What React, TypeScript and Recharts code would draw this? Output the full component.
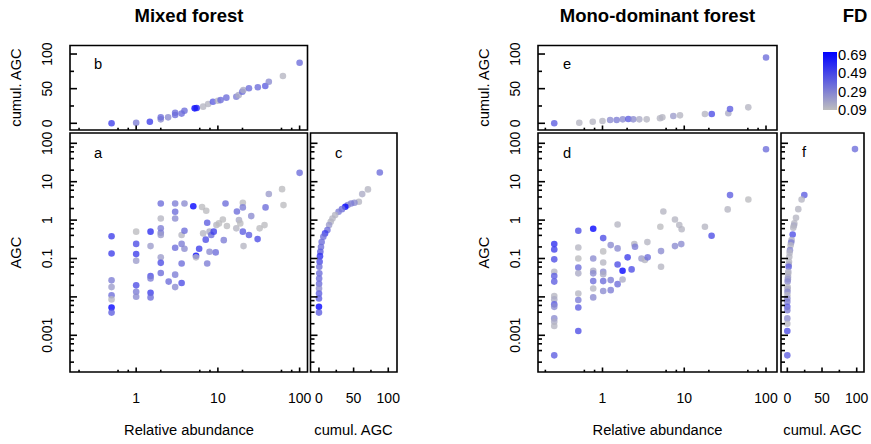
import React from "react";
import { ScatterChart, Scatter, XAxis, YAxis, ReferenceArea } from "recharts";

const W = 871;
const H = 444;
const FONT = "'Liberation Sans', Arial, sans-serif";

// panel a: mixed forest, AGC vs relative abundance
const mixAbund = [0.5, 0.5, 0.5, 0.5, 0.5, 0.5, 0.5, 0.5, 1, 1, 1, 1, 1, 1, 1, 1.5, 1.5, 1.5, 1.5, 1.5, 1.5, 2, 2, 2, 2, 2, 2, 2, 2, 2.5, 3, 3, 3, 3, 3, 3, 3.6, 3.6, 3.6, 3.6, 3.9, 3.9, 3.9,
  5, 5.4, 5.4, 5.9, 6.4, 7.2, 6.6, 7.1, 7.4, 7.4, 7.9, 7.9, 8.3, 8.9, 9.4, 9.6, 10.3, 11.5, 11.8, 12.4, 12.9, 16.8, 17.1, 18.1, 18.8, 20.2, 20.2, 20.2, 20.6, 24, 25.6, 30.6, 32.4, 37.2, 38.3, 42, 61, 63.5, 100];
const mixAgc = [0.38, 0.135, 0.027, 0.018, 0.011, 0.0086, 0.0053, 0.0039, 0.5, 0.24, 0.13, 0.087, 0.02, 0.0136, 0.0101, 0.5, 0.21, 0.035, 0.03, 0.0128, 0.0097, 2.7, 1.1, 0.61, 0.47, 0.41, 0.107, 0.077, 0.042, 0.025, 2.7, 1.65, 1.1, 0.19, 0.038, 0.018, 0.41, 0.24, 0.074, 0.023, 2.7, 0.53, 0.18,
  2.3, 0.118, 0.107, 0.18, 2.2, 1.75, 0.45, 0.31, 0.85, 0.074, 0.5, 0.15, 0.41, 0.5, 0.144, 0.74, 0.82, 1.04, 0.3, 2.7, 0.7, 0.61, 1.68, 1.0, 0.82, 2.83, 2.14, 0.5, 0.21, 0.41, 1.27, 0.32, 0.61, 0.74, 2.14, 4.8, 6.4, 2.46, 17];
const mixFd = [0.5, 0.5, 0.3, 0.2, 0.35, 0.12, 0.69, 0.4, 0.1, 0.45, 0.5, 0.2, 0.45, 0.3, 0.25, 0.55, 0.2, 0.45, 0.3, 0.5, 0.35, 0.35, 0.12, 0.3, 0.3, 0.2, 0.2, 0.45, 0.35, 0.35, 0.3, 0.35, 0.25, 0.35, 0.3, 0.25, 0.12, 0.3, 0.35, 0.45, 0.25, 0.35, 0.25,
  0.69, 0.69, 0.12, 0.5, 0.1, 0.1, 0.12, 0.45, 0.4, 0.3, 0.15, 0.25, 0.35, 0.5, 0.35, 0.12, 0.1, 0.1, 0.3, 0.35, 0.1, 0.12, 0.35, 0.15, 0.1, 0.1, 0.3, 0.4, 0.12, 0.4, 0.25, 0.45, 0.1, 0.1, 0.35, 0.2, 0.1, 0.1, 0.35];

// panel b: mixed forest, cumulative AGC vs relative abundance
const mixCumAbund = [0.5, 1, 1.47, 2, 2, 2.46, 3, 3, 3.6, 3.9, 5.2, 5.5, 6.6, 7.6, 8.7, 10, 10.8, 12.7, 16.8, 18, 19.9, 20.5, 24, 30.8, 38, 42, 62.5, 100];
const mixCum = [0, 0.9, 2.3, 5.7, 8.6, 8.6, 12, 15.3, 14, 18.2, 21.6, 22, 24, 27.8, 31, 32.6, 33.5, 37, 38.4, 40.7, 45.6, 48, 50.5, 52, 53.8, 60, 68.3, 87.5];
const mixCumFd = [0.5, 0.3, 0.5, 0.25, 0.35, 0.25, 0.35, 0.35, 0.35, 0.35, 0.69, 0.6, 0.12, 0.12, 0.4, 0.12, 0.35, 0.35, 0.3, 0.15, 0.35, 0.15, 0.35, 0.35, 0.4, 0.25, 0.12, 0.35];

// panel c: mixed forest, AGC vs cumulative AGC
const mixCurveCum = [87.8, 70.7, 62.4, 57.6, 51.2, 46.3, 41.5, 38, 33.2, 28.3, 23.4, 19.5, 17, 14.6, 12.2, 8.8, 6.3, 3.9, 2.9, 2, 1.5, 1, 0.5, 0.5, 0.3, 0.2, 0.1, 0.1, 0.05, 0, 0];
const mixCurveAgc = [17.4, 6.3, 4.76, 3.0, 2.83, 2.7, 2.46, 2.22, 1.93, 1.65, 1.35, 1.1, 0.9, 0.74, 0.55, 0.45, 0.37, 0.27, 0.2, 0.15, 0.115, 0.082, 0.061, 0.041, 0.03, 0.022, 0.0166, 0.0123, 0.0091, 0.0055, 0.0039];
const mixCurveFd = [0.35, 0.12, 0.15, 0.12, 0.25, 0.3, 0.25, 0.69, 0.35, 0.3, 0.12, 0.12, 0.12, 0.2, 0.35, 0.5, 0.35, 0.35, 0.35, 0.4, 0.55, 0.45, 0.35, 0.35, 0.35, 0.35, 0.25, 0.4, 0.4, 0.69, 0.4];

// panel d: mono-dominant forest, AGC vs relative abundance
const monoAbund = [0.257, 0.257, 0.257, 0.257, 0.257, 0.257, 0.257, 0.257, 0.257, 0.257, 0.257, 0.257, 0.257, 0.257,
  0.506, 0.506, 0.506, 0.506, 0.506, 0.506, 0.506, 0.506, 0.506, 0.77, 0.77, 0.77, 0.77, 0.77, 0.77, 0.77,
  1.02, 1.02, 1.02, 1.02, 1.02, 1.02, 1.02, 1.26, 1.26, 1.26, 1.53, 1.53, 1.53, 1.53, 1.76, 1.76, 2.03, 2.27, 2.45, 2.5, 3.0, 3.3, 3.54, 3.57,
  5.1, 5.2, 5.2, 5.55, 7.7, 7.7, 8.7, 9.3, 9.2, 17.9, 21.6, 34, 36.3, 60.8, 100];
const monoAgc = [0.237, 0.172, 0.095, 0.045, 0.035, 0.025, 0.0105, 0.0086, 0.0064, 0.0055, 0.00275, 0.00225, 0.00174, 0.0003,
  0.527, 0.194, 0.1, 0.0585, 0.041, 0.0123, 0.0083, 0.0053, 0.00129, 0.594, 0.1, 0.048, 0.041, 0.0258, 0.0166, 0.0097,
  0.34, 0.153, 0.079, 0.045, 0.039, 0.0258, 0.0142, 0.223, 0.0274, 0.015, 0.77, 0.183, 0.07, 0.0215, 0.048, 0.0285, 0.107, 0.052, 0.237, 0.202, 0.1, 0.091, 0.267, 0.107,
  0.67, 0.156, 0.061, 1.68, 1.04, 0.21, 0.74, 0.58, 0.237, 0.67, 0.39, 1.9, 4.48, 3.45, 70];
const monoFd = [0.55, 0.5, 0.45, 0.12, 0.4, 0.4, 0.12, 0.15, 0.4, 0.25, 0.25, 0.15, 0.12, 0.4,
  0.45, 0.12, 0.1, 0.35, 0.15, 0.12, 0.3, 0.4, 0.45, 0.69, 0.25, 0.15, 0.25, 0.35, 0.12, 0.25,
  0.45, 0.1, 0.12, 0.25, 0.15, 0.35, 0.25, 0.25, 0.3, 0.3, 0.12, 0.25, 0.45, 0.35, 0.69, 0.15, 0.5, 0.45, 0.12, 0.3, 0.2, 0.12, 0.12, 0.35,
  0.1, 0.25, 0.12, 0.12, 0.12, 0.25, 0.12, 0.12, 0.25, 0.12, 0.45, 0.12, 0.4, 0.1, 0.35];

// panel e: mono-dominant forest, cumulative AGC vs relative abundance
const monoCumAbund = [0.257, 0.52, 0.76, 1.0, 1.24, 1.49, 1.77, 2.07, 2.38, 2.82, 3.47, 5.05, 5.4, 7.35, 8.87, 17.9, 21.7, 34.6, 36.3, 60.7, 100];
const monoCum = [0, 0.9, 2.3, 3.3, 4.8, 4.8, 5.7, 6.2, 5.7, 5.7, 5.7, 7.2, 8.6, 10.5, 11.5, 13.4, 13.4, 14.4, 20.6, 23, 95];
const monoCumFd = [0.4, 0.12, 0.12, 0.12, 0.25, 0.3, 0.25, 0.4, 0.25, 0.15, 0.12, 0.12, 0.12, 0.2, 0.12, 0.12, 0.45, 0.15, 0.4, 0.12, 0.35];

// panel f: mono-dominant forest, AGC vs cumulative AGC
const monoCurveCum = [97.5, 24.5, 20.6, 15.8, 12.5, 10.1, 9.5, 8.6, 7.7, 6.2, 5.5, 4.8, 3.8, 3.3, 2.9, 2.4, 2.0, 1.9, 1.4, 1.2, 1.0, 0.8, 0.5, 0.5, 0.3, 0.2, 0.1, 0.1, 0, 0, 0, 0, 0, 0, 0];
const monoCurveAgc = [70.6, 4.48, 3.45, 1.93, 1.15, 0.82, 0.72, 0.63, 0.42, 0.3, 0.26, 0.22, 0.165, 0.14, 0.111, 0.082, 0.07, 0.061, 0.045, 0.04, 0.033, 0.029, 0.025, 0.018, 0.016, 0.0136, 0.011, 0.0091, 0.0075, 0.0055, 0.0045, 0.00275, 0.002, 0.00129, 0.0003];
const monoCurveFd = [0.35, 0.4, 0.12, 0.12, 0.12, 0.12, 0.15, 0.12, 0.45, 0.15, 0.3, 0.12, 0.25, 0.12, 0.12, 0.12, 0.15, 0.4, 0.15, 0.12, 0.15, 0.2, 0.25, 0.12, 0.15, 0.25, 0.12, 0.25, 0.3, 0.4, 0.3, 0.25, 0.12, 0.45, 0.4];

// axis ticks and labels
const logXTicks = [0.2, 0.6, 0.8, 1, 2, 6, 8, 10, 20, 60, 80, 100];
const logXLabels = [1, 10, 100];
const logYTicks = [0.0002, 0.0004, 0.0006, 0.0008, 0.001, 0.002, 0.004, 0.006, 0.008, 0.01, 0.02, 0.04, 0.06, 0.08,
  0.1, 0.2, 0.4, 0.6, 0.8, 1, 2, 4, 6, 8, 10, 20, 40, 60, 80, 100];
const logYLabels = [0.001, 0.1, 1, 10, 100];
const cumTicks = [0, 25, 50, 75, 100];
const cumLabels = [0, 50, 100];
const fdLegend = [0.69, 0.49, 0.29, 0.09];

const zip = (xs: number[], ys: number[], fds: number[]) =>
  xs.slice(0, Math.min(xs.length, ys.length, fds.length)).map((x, i) => ({ x, y: ys[i], fd: fds[i] }));

function fdColor(fd: number) {
  const t = Math.max(0, Math.min(1, (fd - 0.09) / 0.6));
  const g = Math.round(190 * (1 - t));
  const b = Math.round(190 + 65 * t);
  return `rgb(${g},${g},${b})`;
}

const isDecade = (v: number) => Math.abs(Math.log10(v) - Math.round(Math.log10(v))) < 1e-6;
const isFifty = (v: number) => v % 50 === 0;

const makeTick = (side: "left" | "bottom", major: (v: number) => boolean, labels: number[], majLen: number, minLen: number) =>
  (p: any) => {
    const { x, y, payload } = p;
    const v = payload.value;
    const len = major(v) ? majLen : minLen;
    const show = labels.some((l) => Math.abs(l - v) < 1e-9);
    if (side === "left") {
      const tx = x - 18;
      return (
        <g>
          <line x1={x} y1={y} x2={x + len} y2={y} stroke="#000" strokeWidth={1.6} />
          {show && (
            <text x={tx} y={y} transform={`rotate(-90 ${tx} ${y})`} textAnchor="middle" fontSize={14} fontFamily={FONT} fill="#000">
              {String(v)}
            </text>
          )}
        </g>
      );
    }
    return (
      <g>
        <line x1={x} y1={y} x2={x} y2={y - len} stroke="#000" strokeWidth={1.6} />
        {show && (
          <text x={x} y={y + 31} textAnchor="middle" fontSize={14} fontFamily={FONT} fill="#000">
            {String(v)}
          </text>
        )}
      </g>
    );
  };

const Dot = (p: any) => (
  <circle cx={p.cx} cy={p.cy} r={3.3} fill={fdColor(p.payload.fd)} fillOpacity={0.78} />
);

type PanelProps = {
  box: [number, number, number, number];
  data: { x: number; y: number; fd: number }[];
  xDomain: [number, number];
  yDomain: [number, number];
  xLog: boolean;
  yLog: boolean;
  xLabels: number[];
  yLabels: number[];
};

function Panel({ box, data, xDomain, yDomain, xLog, yLog, xLabels, yLabels }: PanelProps) {
  const [l, t, r, b] = box;
  // axes take 1px each (a zero-sized axis is not drawn at all)
  return (
    <div style={{ position: "absolute", left: 0, top: 0 }}>
      <ScatterChart width={W} height={H} margin={{ left: l - 1, top: t, right: W - r, bottom: H - b - 1 }}>
        <XAxis
          dataKey="x" type="number" scale={xLog ? "log" : "linear"} domain={xDomain} allowDataOverflow
          ticks={xLog ? logXTicks : cumTicks} interval={0} tickLine={false} axisLine={false}
          height={1} tickSize={0} tickMargin={0}
          tick={xLog ? makeTick("bottom", isDecade, xLabels, 4.5, 2.3) : makeTick("bottom", isFifty, xLabels, 4.5, 2.3)}
        />
        <YAxis
          dataKey="y" type="number" scale={yLog ? "log" : "linear"} domain={yDomain} allowDataOverflow
          ticks={yLog ? logYTicks : cumTicks} interval={0} tickLine={false} axisLine={false}
          width={1} tickSize={0} tickMargin={0}
          tick={yLog ? makeTick("left", isDecade, yLabels, 7, 4) : makeTick("left", isFifty, yLabels, 7, 4)}
        />
        <Scatter data={data} isAnimationActive={false} shape={Dot} />
        <ReferenceArea
          x1={xDomain[0]} x2={xDomain[1]} y1={yDomain[0]} y2={yDomain[1]}
          fill="none" stroke="#000" strokeWidth={1.6} ifOverflow="visible"
        />
      </ScatterChart>
    </div>
  );
}

const txt = { fontFamily: FONT, fontSize: 14.7, fill: "#000" } as const;

export default function App() {
  const logAbundMix: [number, number] = [0.155, 124.9];
  const logAbundMono: [number, number] = [0.1626, 136.3];
  const logAgc: [number, number] = [0.0001107, 185.4];
  const cumY: [number, number] = [-9.67, 112.3];
  const cumXMix: [number, number] = [-12.2, 112.6];
  const cumXMono: [number, number] = [-9.1, 110.5];

  return (
    <div style={{ position: "absolute", left: 0, top: 0, width: W, height: H, background: "#fff" }}>
      <Panel box={[70, 45.5, 307.5, 130]} data={zip(mixCumAbund, mixCum, mixCumFd)} xDomain={logAbundMix} yDomain={cumY} xLog yLog={false} xLabels={[]} yLabels={cumLabels} />
      <Panel box={[70, 133, 307.5, 372]} data={zip(mixAbund, mixAgc, mixFd)} xDomain={logAbundMix} yDomain={logAgc} xLog yLog xLabels={logXLabels} yLabels={logYLabels} />
      <Panel box={[310.5, 133, 397, 372]} data={zip(mixCurveCum, mixCurveAgc, mixCurveFd)} xDomain={cumXMix} yDomain={logAgc} xLog={false} yLog xLabels={cumLabels} yLabels={[]} />
      <Panel box={[538, 45.5, 777, 130]} data={zip(monoCumAbund, monoCum, monoCumFd)} xDomain={logAbundMono} yDomain={cumY} xLog yLog={false} xLabels={[]} yLabels={cumLabels} />
      <Panel box={[538, 133, 777, 372]} data={zip(monoAbund, monoAgc, monoFd)} xDomain={logAbundMono} yDomain={logAgc} xLog yLog xLabels={logXLabels} yLabels={logYLabels} />
      <Panel box={[781, 133, 864, 372]} data={zip(monoCurveCum, monoCurveAgc, monoCurveFd)} xDomain={cumXMono} yDomain={logAgc} xLog={false} yLog xLabels={cumLabels} yLabels={[]} />

      <svg width={W} height={H} style={{ position: "absolute", left: 0, top: 0 }}>
        <defs>
          <linearGradient id="fdgrad" x1="0" y1="1" x2="0" y2="0">
            <stop offset="0" stopColor={fdColor(0.09)} />
            <stop offset="1" stopColor={fdColor(0.69)} />
          </linearGradient>
        </defs>
        <text x={189} y={22} textAnchor="middle" {...txt} fontSize={18.5} fontWeight="bold">Mixed forest</text>
        <text x={657.5} y={22} textAnchor="middle" {...txt} fontSize={18.5} fontWeight="bold">Mono-dominant forest</text>
        <text x={855} y={22} textAnchor="middle" {...txt} fontSize={18.5} fontWeight="bold">FD</text>

        <text x={21} y={87.5} transform="rotate(-90 21 87.5)" textAnchor="middle" {...txt}>cumul. AGC</text>
        <text x={21} y={252.5} transform="rotate(-90 21 252.5)" textAnchor="middle" {...txt}>AGC</text>
        <text x={489} y={87.5} transform="rotate(-90 489 87.5)" textAnchor="middle" {...txt}>cumul. AGC</text>
        <text x={489} y={252.5} transform="rotate(-90 489 252.5)" textAnchor="middle" {...txt}>AGC</text>

        <text x={189} y={435} textAnchor="middle" {...txt}>Relative abundance</text>
        <text x={353.5} y={435} textAnchor="middle" {...txt}>cumul. AGC</text>
        <text x={657.5} y={435} textAnchor="middle" {...txt}>Relative abundance</text>
        <text x={822.5} y={435} textAnchor="middle" {...txt}>cumul. AGC</text>

        <text x={94} y={69} {...txt}>b</text>
        <text x={94} y={158} {...txt}>a</text>
        <text x={335} y={157.5} {...txt}>c</text>
        <text x={563} y={69} {...txt}>e</text>
        <text x={563} y={158} {...txt}>d</text>
        <text x={802} y={157} {...txt}>f</text>

        <rect x={823} y={52} width={14} height={58} fill="url(#fdgrad)" />
        {fdLegend.map((v) => {
          const cy = 110 - ((v - 0.09) / 0.6) * 55;
          return (
            <text key={v} x={838} y={cy + 5} {...txt}>{v.toFixed(2)}</text>
          );
        })}
      </svg>
    </div>
  );
}
